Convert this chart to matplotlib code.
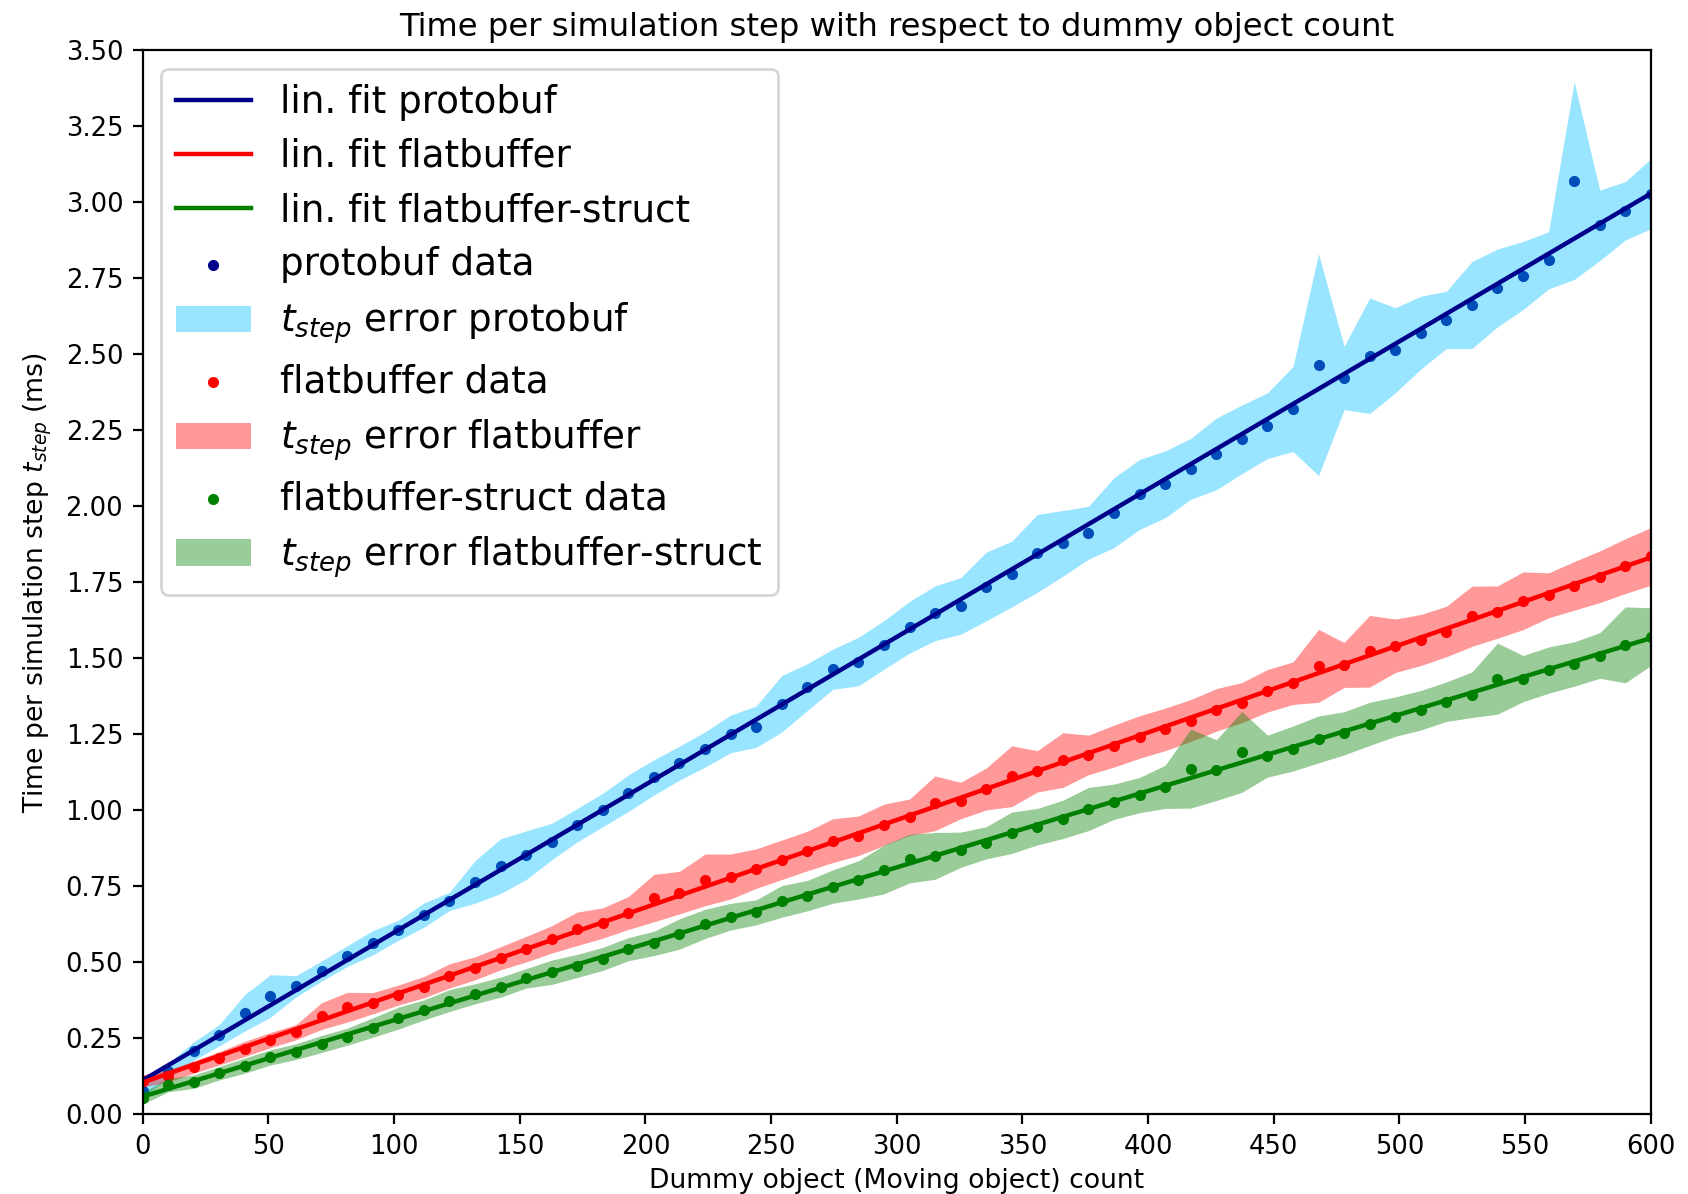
import numpy as np
import matplotlib
matplotlib.use('Agg')
import matplotlib.pyplot as plt

plt.rcParams.update({'font.size': 9.3})

# dummy object counts (60 runs between 0 and 600)
counts = np.linspace(0, 600, 60)

# mean time per step (ms) and error
proto_t = [0.078, 0.142, 0.208, 0.260, 0.334, 0.389, 0.421, 0.471, 0.520, 0.564,
           0.605, 0.655, 0.700, 0.764, 0.816, 0.852, 0.897, 0.951, 1.001, 1.056,
           1.108, 1.155, 1.200, 1.251, 1.275, 1.350, 1.405, 1.464, 1.489, 1.544,
           1.602, 1.648, 1.672, 1.736, 1.777, 1.845, 1.878, 1.913, 1.979, 2.039,
           2.072, 2.123, 2.172, 2.220, 2.265, 2.320, 2.466, 2.422, 2.495, 2.513,
           2.571, 2.613, 2.662, 2.718, 2.759, 2.809, 3.071, 2.924, 2.972, 3.028]
proto_err = [0.020, 0.025, 0.030, 0.035, 0.060, 0.070, 0.035, 0.033, 0.034, 0.040,
             0.033, 0.040, 0.030, 0.070, 0.090, 0.080, 0.060, 0.055, 0.055, 0.060,
             0.058, 0.056, 0.058, 0.062, 0.068, 0.093, 0.077, 0.066, 0.080, 0.080,
             0.085, 0.090, 0.093, 0.113, 0.108, 0.128, 0.108, 0.087, 0.115, 0.115,
             0.110, 0.100, 0.118, 0.113, 0.108, 0.140, 0.365, 0.104, 0.190, 0.140,
             0.120, 0.094, 0.143, 0.128, 0.112, 0.094, 0.325, 0.116, 0.096, 0.115]

flat_t = [0.110, 0.126, 0.155, 0.184, 0.215, 0.244, 0.270, 0.323, 0.352, 0.365,
          0.392, 0.418, 0.455, 0.480, 0.513, 0.543, 0.575, 0.610, 0.629, 0.662,
          0.711, 0.729, 0.771, 0.782, 0.808, 0.837, 0.866, 0.900, 0.916, 0.952,
          0.977, 1.023, 1.032, 1.070, 1.112, 1.128, 1.165, 1.182, 1.211, 1.241,
          1.266, 1.295, 1.330, 1.354, 1.393, 1.418, 1.475, 1.478, 1.523, 1.541,
          1.560, 1.588, 1.638, 1.652, 1.689, 1.707, 1.738, 1.768, 1.803, 1.835]
flat_err = [0.020, 0.020, 0.020, 0.022, 0.025, 0.025, 0.025, 0.044, 0.049, 0.035,
            0.033, 0.035, 0.040, 0.038, 0.038, 0.042, 0.045, 0.055, 0.050, 0.054,
            0.078, 0.070, 0.085, 0.074, 0.065, 0.065, 0.065, 0.072, 0.065, 0.068,
            0.060, 0.090, 0.060, 0.069, 0.100, 0.068, 0.090, 0.065, 0.069, 0.070,
            0.070, 0.069, 0.070, 0.066, 0.070, 0.070, 0.120, 0.074, 0.118, 0.088,
            0.084, 0.083, 0.099, 0.086, 0.095, 0.074, 0.080, 0.085, 0.090, 0.095]

struct_t = [0.053, 0.096, 0.107, 0.135, 0.160, 0.187, 0.206, 0.231, 0.255, 0.285,
            0.316, 0.343, 0.374, 0.396, 0.418, 0.447, 0.467, 0.488, 0.511, 0.543,
            0.562, 0.593, 0.626, 0.650, 0.664, 0.700, 0.719, 0.749, 0.771, 0.805,
            0.841, 0.850, 0.870, 0.893, 0.926, 0.946, 0.970, 1.004, 1.028, 1.050,
            1.077, 1.137, 1.132, 1.192, 1.178, 1.203, 1.233, 1.253, 1.284, 1.308,
            1.329, 1.357, 1.380, 1.433, 1.433, 1.461, 1.481, 1.509, 1.544, 1.571]
struct_err = [0.020, 0.022, 0.022, 0.022, 0.025, 0.025, 0.026, 0.028, 0.028, 0.032,
              0.036, 0.033, 0.036, 0.033, 0.033, 0.032, 0.040, 0.038, 0.038, 0.038,
              0.040, 0.050, 0.048, 0.044, 0.041, 0.052, 0.050, 0.055, 0.063, 0.080,
              0.080, 0.077, 0.058, 0.053, 0.068, 0.060, 0.063, 0.071, 0.058, 0.058,
              0.071, 0.130, 0.100, 0.133, 0.069, 0.074, 0.077, 0.071, 0.071, 0.065,
              0.065, 0.065, 0.075, 0.117, 0.076, 0.076, 0.073, 0.075, 0.125, 0.095]

series = [
    ('protobuf', proto_t, proto_err, 'darkblue', 'deepskyblue'),
    ('flatbuffer', flat_t, flat_err, 'red', 'red'),
    ('flatbuffer-struct', struct_t, struct_err, 'green', 'green'),
]

fig = plt.figure(figsize=(8.44, 5.97), dpi=200)
ax = fig.add_axes([0.0845, 0.0668, 0.8935, 0.8911])

# linear fits first
for name, t, err, c, fc in series:
    coef = np.polyfit(counts, t, 1)
    ax.plot(counts, np.polyval(coef, counts), color=c, linewidth=1.6, label='lin. fit ' + name)

for name, t, err, c, fc in series:
    t = np.array(t)
    err = np.array(err)
    ax.scatter(counts, t, marker='.', color=c, label=name + ' data')
    ax.fill_between(counts, t - err, t + err, color=fc, alpha=0.4, linewidth=0,
                    label='$t_{step}$ error ' + name)

ax.set_xlim(0, 600)
ax.set_ylim(0, 3.5)
ax.set_xticks(np.arange(0, 601, 50))
ax.set_yticks(np.arange(0, 3.51, 0.25))
ax.set_title('Time per simulation step with respect to dummy object count', fontsize=11.6, pad=5)
ax.set_xlabel('Dummy object (Moving object) count', fontsize=9.6, labelpad=3)
ax.set_ylabel('Time per simulation step $t_{step}$ (ms)', fontsize=9.6)
ax.legend(loc='upper left', fontsize=13.4, labelspacing=0.46)

fig.savefig('out.png', dpi=200)
